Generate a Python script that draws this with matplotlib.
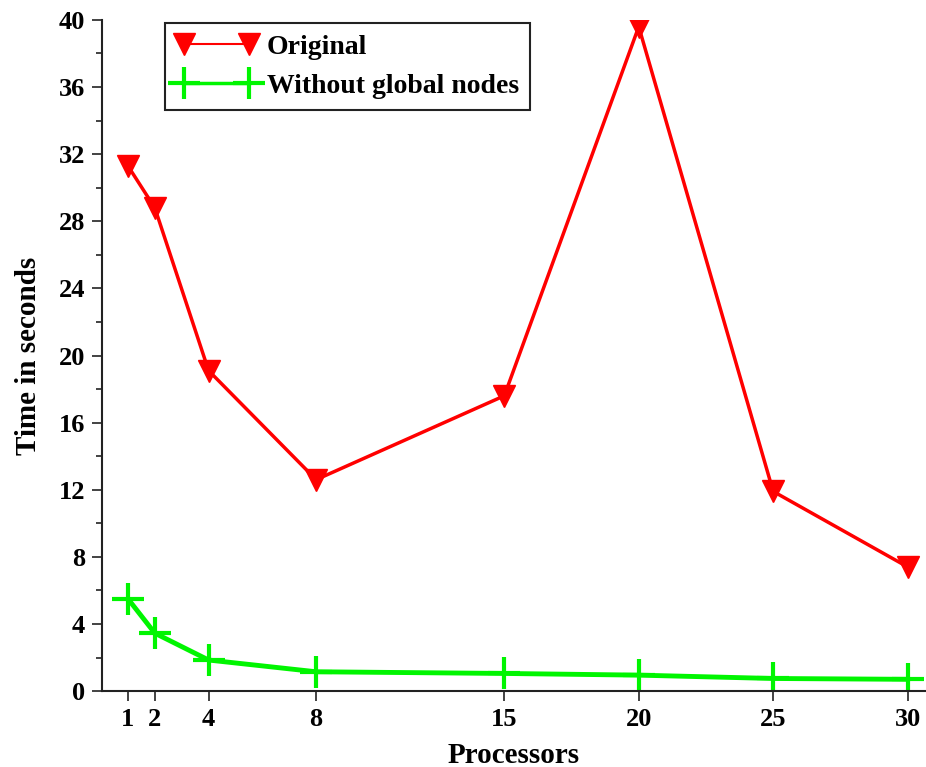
import matplotlib
matplotlib.use('Agg')
import matplotlib.pyplot as plt
from matplotlib.ticker import MultipleLocator

processors = [1, 2, 4, 8, 15, 20, 25, 30]
original = [31.3, 28.8, 19.1, 12.6, 17.6, 39.6, 11.9, 7.4]
no_global = [5.5, 3.45, 1.85, 1.15, 1.05, 0.95, 0.75, 0.7]

plt.rcParams['font.family'] = 'Liberation Serif'
plt.rcParams['font.weight'] = 'bold'

fig = plt.figure(figsize=(9.26, 7.67), dpi=100)
ax = fig.add_axes([0.110, 0.099, 0.889, 0.875])

ax.plot(processors, original, color='#ff0000', lw=2.5, marker='v', ms=16,
        mec='#ff0000', label='Original')
ax.plot(processors, no_global, color='#00f500', lw=3.5, marker='+', ms=23,
        mew=3, label='Without global nodes')

ax.set_xlim(0.03, 30.65)
ax.set_ylim(0, 40)
ax.set_xticks(processors)
ax.yaxis.set_major_locator(MultipleLocator(4))
ax.yaxis.set_minor_locator(MultipleLocator(2))

for side in ['top', 'right']:
    ax.spines[side].set_visible(False)
for side in ['left', 'bottom']:
    ax.spines[side].set_linewidth(1.5)
    ax.spines[side].set_color('#222222')

ax.tick_params(which='major', direction='out', length=7, width=1.2,
               labelsize=19, color='#222222', pad=5)
ax.tick_params(which='minor', direction='out', length=4.5, width=1.2,
               color='#222222')

ax.set_xlabel('Processors', fontsize=21, fontweight='bold', labelpad=8)
ax.set_ylabel('Time in seconds', fontsize=21, fontweight='bold', labelpad=12)

leg = ax.legend(loc='upper left', bbox_to_anchor=(0.0766, 0.9955), numpoints=2,
                fontsize=20, frameon=True, fancybox=False, framealpha=1,
                edgecolor='#222222', handlelength=2.94, handletextpad=0.32,
                borderpad=0.4, labelspacing=0.5, borderaxespad=0)
leg.get_frame().set_linewidth(1.5)
leg.legend_handles[0].set_linewidth(1.5)
leg.legend_handles[1].set_linewidth(2.5)

plt.savefig('out.png', dpi=100)
